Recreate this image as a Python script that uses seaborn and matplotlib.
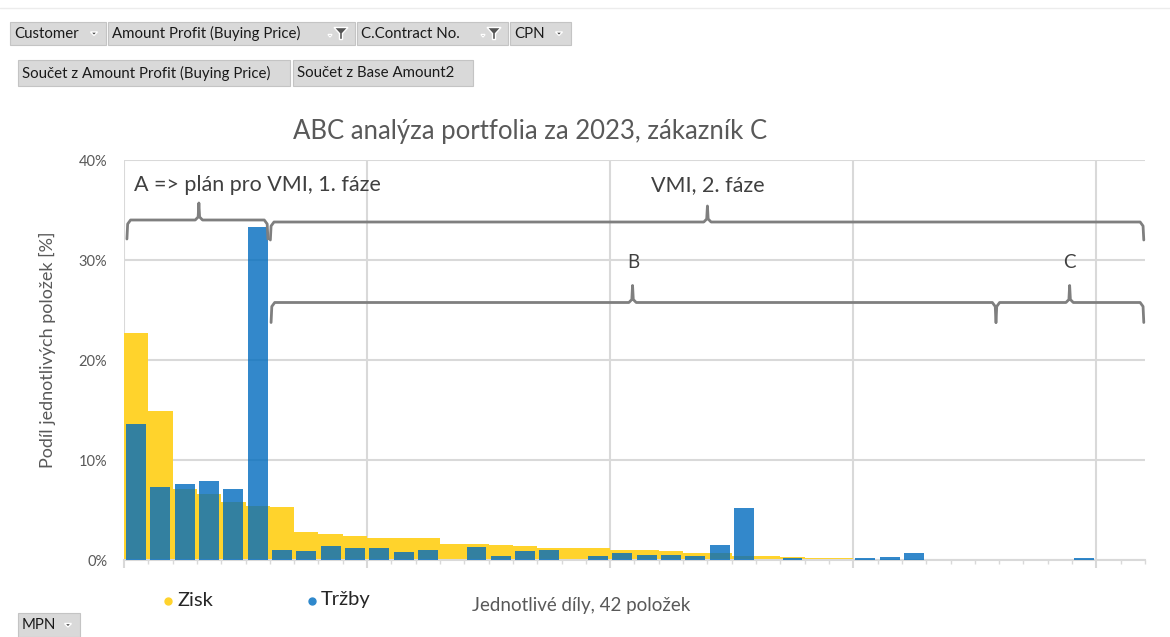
import numpy as np
import pandas as pd
import matplotlib.pyplot as plt
import seaborn as sns
from matplotlib.patches import Rectangle, Polygon
from matplotlib.lines import Line2D

# Values: share of each item in %
items = [f"P{i + 1:02d}" for i in range(42)]
zisk = [22.7, 14.9, 7.1, 6.6, 5.8, 5.4, 5.3, 2.8, 2.6, 2.4,
        2.2, 2.2, 2.2, 1.6, 1.6, 1.5, 1.4, 1.2, 1.2, 1.2,
        1.0, 1.0, 0.9, 0.7, 0.7, 0.4, 0.4, 0.3, 0.25, 0.25,
        0.05, 0.05, 0.05, 0.15, 0, 0, 0, 0, 0, 0,
        0, 0]
trzby = [13.6, 7.3, 7.6, 7.9, 7.1, 33.3, 1.0, 0.9, 1.4, 1.2,
         1.2, 0.8, 1.0, 0, 1.3, 0.4, 0.9, 1.0, 0, 0.4,
         0.7, 0.5, 0.5, 0.4, 1.5, 5.2, 0, 0.2, 0, 0,
         0.2, 0.3, 0.7, 0, 0, 0, 0, 0, 0, 0.2,
         0, 0]
y_ticks = [0, 10, 20, 30, 40]
y_labels = ["0%", "10%", "20%", "30%", "40%"]

sns.set_style("white")
plt.rcParams["font.family"] = ["Lato", "DejaVu Sans"]

W, H = 1170, 637


def px(x, y):
    # pixel position -> figure fraction
    return x / W, 1 - y / H


fig = plt.figure(figsize=(W / 100, H / 100), dpi=100)
ax = fig.add_axes([124 / W, 1 - 560 / H, (1145 - 124) / W, 400 / H])

df = pd.DataFrame({"item": items, "Zisk": zisk, "Tržby": trzby})
sns.barplot(data=df, x="item", y="Zisk", color="#FFD32C", width=1.0, saturation=1,
            errorbar=None, linewidth=0, ax=ax, zorder=2)
sns.barplot(data=df, x="item", y="Tržby", color="#006BBE", width=0.82, saturation=1,
            errorbar=None, linewidth=0, alpha=0.8, ax=ax, zorder=3)

grid_c = "#d9d9d9"
ax.set_xlim(-0.5, 41.5)
ax.set_ylim(0, 40)
ax.set_xticks(np.arange(-0.5, 42, 10), labels=[""] * 5)
ax.set_xticks(np.arange(-0.5, 42, 1), minor=True)
ax.set_yticks(y_ticks, labels=y_labels)
ax.set_axisbelow(True)
ax.grid(True, which="major", color=grid_c, lw=1.5)
ax.tick_params(axis="x", which="major", length=6, width=1.5, color=grid_c, bottom=True)
ax.tick_params(axis="x", which="minor", length=3, width=1, color=grid_c, bottom=True)
ax.tick_params(axis="y", length=0, pad=12, labelsize=10.5, labelcolor="#595959")
ax.set_xlabel("")
ax.set_ylabel("")
for s in ["left", "top", "right"]:
    ax.spines[s].set_visible(False)
ax.spines["bottom"].set_color(grid_c)
ax.spines["bottom"].set_linewidth(1.5)


# brackets over the groups
def brace(x0, x1, xp, yh, drop, rise):
    xs = [x0, x0 + 0.03, x0 + 0.15, xp - 0.15, xp - 0.03, xp, xp + 0.03, xp + 0.15,
          x1 - 0.15, x1 - 0.03, x1]
    ys = [yh - drop, yh - 0.4, yh, yh, yh + 0.3, yh + rise, yh + 0.3, yh,
          yh, yh - 0.4, yh - drop]
    ax.plot(xs, ys, color="#7f7f7f", lw=2, zorder=5, clip_on=False,
            solid_joinstyle="round")


brace(-0.38, 5.42, 2.58, 34.0, 1.9, 1.7)
brace(5.52, 41.45, 23.5, 33.8, 1.8, 1.6)
brace(5.55, 35.37, 20.42, 25.75, 2.0, 1.7)
brace(35.37, 41.45, 38.4, 25.75, 2.0, 1.7)

txt_c = "#404040"
ax.text(-0.1, 37.5, "A => plán pro VMI, 1. fáze", fontsize=15.5, color=txt_c, va="center")
ax.text(23.5, 37.5, "VMI, 2. fáze", fontsize=15.5, color=txt_c, va="center", ha="center")
ax.text(20.45, 29.7, "B", fontsize=13.5, color=txt_c, va="center", ha="center")
ax.text(38.4, 29.7, "C", fontsize=13.5, color=txt_c, va="center", ha="center")

# title, axis titles, legend
fig.text(*px(530, 131), "ABC analýza portfolia za 2023, zákazník C", fontsize=18.5,
         color="#595959", ha="center", va="center")
fig.text(*px(47, 350), "Podíl jednotlivých položek [%]", fontsize=13, color="#595959",
         rotation=90, ha="center", va="center")
fig.text(*px(581, 606), "Jednotlivé díly, 42 položek", fontsize=13.5, color="#595959",
         ha="center", va="center")
for x, label, c in [(168, "Zisk", "#FFD32C"), (312, "Tržby", "#2E88CC")]:
    fig.add_artist(Line2D([px(x, 0)[0]], [px(0, 601)[1]], marker="o", ms=5,
                          color=c, transform=fig.transFigure))
    fig.text(*px(x + 9, 600), label, fontsize=14.5, color="#262626", va="center")

# pivot field buttons of the screenshot
fig.add_artist(Line2D([0, 1], [px(0, 8)[1]] * 2, color="#ececec", lw=1,
                      transform=fig.transFigure))
buttons = [(10, 106, 22, 45, "Customer", "drop"),
           (108, 355, 22, 45, "Amount Profit (Buying Price)", "filter"),
           (357, 508, 22, 45, "C.Contract No.", "filter"),
           (510, 571, 22, 45, "CPN", "drop"),
           (18, 290, 60, 86, "Součet z Amount Profit (Buying Price)", None),
           (293, 473, 60, 86, "Součet z Base Amount2", None),
           (18, 80, 613, 637, "MPN", "drop")]
btn_font = ["Liberation Sans Narrow", "Lato", "DejaVu Sans"]
for x0, x1, y0, y1, label, icon in buttons:
    fig.patches.append(Rectangle(px(x0, y1), (x1 - x0) / W, (y1 - y0) / H,
                                 facecolor="#d9d9d9", edgecolor="#c4c4c4", lw=0.8,
                                 transform=fig.transFigure, figure=fig))
    fig.text(*px(x0 + 4, (y0 + y1) / 2), label, fontsize=10.8, color="#1a1a1a",
             va="center", family=btn_font)
    if icon == "drop":
        cx, cy = x1 - 12, (y0 + y1) / 2
        fig.patches.append(Polygon([px(cx - 3.5, cy - 1.5), px(cx + 3.5, cy - 1.5),
                                    px(cx, cy + 2)], closed=True, facecolor="#444444",
                                   transform=fig.transFigure, figure=fig))
    elif icon == "filter":
        cx, cy = x1 - 14, (y0 + y1) / 2
        fig.patches.append(Polygon([px(cx - 7, cy - 6), px(cx + 7, cy - 6), px(cx + 1.5, cy),
                                    px(cx + 1.5, cy + 6), px(cx - 1.5, cy + 6),
                                    px(cx - 1.5, cy)], closed=True, facecolor="#555555",
                                   transform=fig.transFigure, figure=fig))
        fig.patches.append(Polygon([px(cx - 13, cy + 1), px(cx - 9, cy + 1),
                                    px(cx - 11, cy + 3.5)], closed=True, facecolor="#444444",
                                   transform=fig.transFigure, figure=fig))

fig.savefig("out.png", dpi=100)
